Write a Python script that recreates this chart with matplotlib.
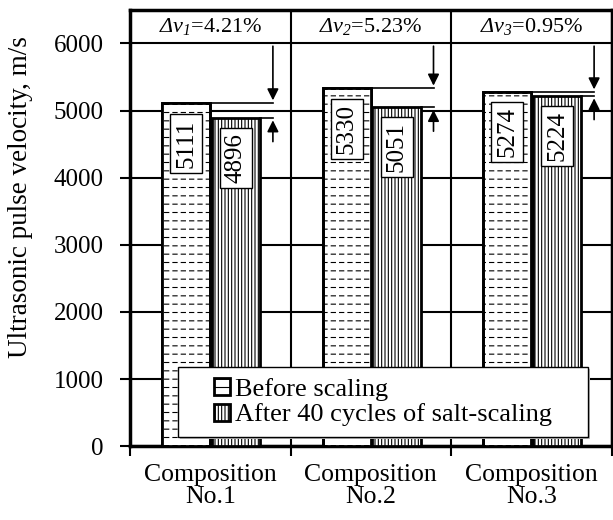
import matplotlib.pyplot as plt
from matplotlib.patches import Rectangle
import numpy as np

# data
categories = ["Composition\nNo.1", "Composition\nNo.2", "Composition\nNo.3"]
before = [5111, 5330, 5274]
after = [4896, 5051, 5224]
dv = ["4.21", "5.23", "0.95"]
series_names = ["Before scaling", "After 40 cycles of salt-scaling"]

plt.rcParams["font.family"] = ["Liberation Serif", "DejaVu Serif"]
plt.rcParams["mathtext.fontset"] = "custom"
plt.rcParams["mathtext.rm"] = "Liberation Serif:italic"
plt.rcParams["mathtext.it"] = "Liberation Serif:italic"
plt.rcParams["hatch.linewidth"] = 0.8

fig = plt.figure(figsize=(6.13, 5.2), dpi=100)
ax = fig.add_axes([0.212, 0.142, 0.786, 0.839])

x = np.arange(len(categories))
w = 0.3
x1 = x - 0.15
x2 = x + 0.16
ax.bar(x1, before, w, color="white", edgecolor="black", lw=2, hatch="--",
       label=series_names[0], zorder=3)
# white vertical hatch on top to break the horizontal lines into dashes
with plt.rc_context({"hatch.linewidth": 2.2}):
    ax.bar(x1, before, w, color="none", edgecolor="white", lw=0, hatch="||", zorder=3.1)
ax.bar(x1, before, w, color="none", edgecolor="black", lw=2, zorder=3.2)
ax.bar(x2, after, w, color="white", edgecolor="black", lw=2, hatch="|||||",
       label=series_names[1], zorder=3)

# value labels inside bars
for i in range(len(categories)):
    for xi, v in ((x1[i], before[i]), (x2[i], after[i])):
        ax.text(xi, v - 600, str(v), rotation=90, ha="center", va="center", fontsize=18,
                zorder=5, bbox=dict(boxstyle="square,pad=0.2", fc="white", ec="black", lw=1))

# difference arrows
for i in range(len(categories)):
    xa = x[i] + 0.39
    ax.plot([x1[i] + w / 2, xa], [before[i], before[i]], color="black", lw=1.2, zorder=4)
    ax.plot([x2[i] + w / 2, xa], [after[i], after[i]], color="black", lw=1.2, zorder=4)
    ax.annotate("", xy=(xa, before[i]), xytext=(xa, 6000),
                arrowprops=dict(arrowstyle="-|>", color="black", lw=1.2, mutation_scale=17), zorder=4)
    ax.annotate("", xy=(xa, after[i]), xytext=(xa, after[i] - 400),
                arrowprops=dict(arrowstyle="-|>", color="black", lw=1.2, mutation_scale=17), zorder=4)
    ax.text(x[i], 6250, r"$\Delta v_{%d}$=%s%%" % (i + 1, dv[i]),
            ha="center", va="center", fontsize=16)

ax.set_xlim(-0.5, 2.5)
ax.set_ylim(0, 6500)
ax.set_yticks(range(0, 7000, 1000))
ax.set_xticks(x)
ax.set_xticklabels(categories, fontsize=18.5, linespacing=1.0)
ax.set_xticks([-0.5, 0.5, 1.5, 2.5], minor=True)
ax.tick_params(axis="x", which="major", length=0, pad=13)
ax.tick_params(axis="x", which="minor", length=7, width=1.5, direction="out")
ax.tick_params(axis="y", length=7, width=1.5, direction="out", labelsize=18, pad=12)
ax.grid(axis="y", which="major", color="black", lw=1.5, zorder=1)
ax.grid(axis="x", which="minor", color="black", lw=1.5, zorder=1)
for s in ax.spines.values():
    s.set_linewidth(2.5)
ax.set_ylabel("Ultrasonic pulse velocity, m/s", fontsize=19.5)
ax.yaxis.set_label_coords(-0.201, 0.571)

# legend frame drawn by hand so the entries sit in the middle of a wide box
box = (0.0996, 0.0206, 0.8504, 0.1604)
ax.add_patch(Rectangle((box[0] + 0.004, box[1] - 0.005), box[2], box[3], transform=ax.transAxes,
                       fc="#bdbdbd", ec="none", zorder=5.4))
ax.add_patch(Rectangle(box[:2], box[2], box[3], transform=ax.transAxes,
                       fc="white", ec="black", lw=1, zorder=5.5))
leg = ax.legend(loc="center", bbox_to_anchor=(box[0] + box[2] / 2, box[1] + box[3] / 2),
                fontsize=19, frameon=False, handlelength=0.6, handleheight=0.6,
                handletextpad=0.2, borderpad=0, labelspacing=0.1)
leg.set_zorder(6)

plt.savefig("out.png", dpi=100)
